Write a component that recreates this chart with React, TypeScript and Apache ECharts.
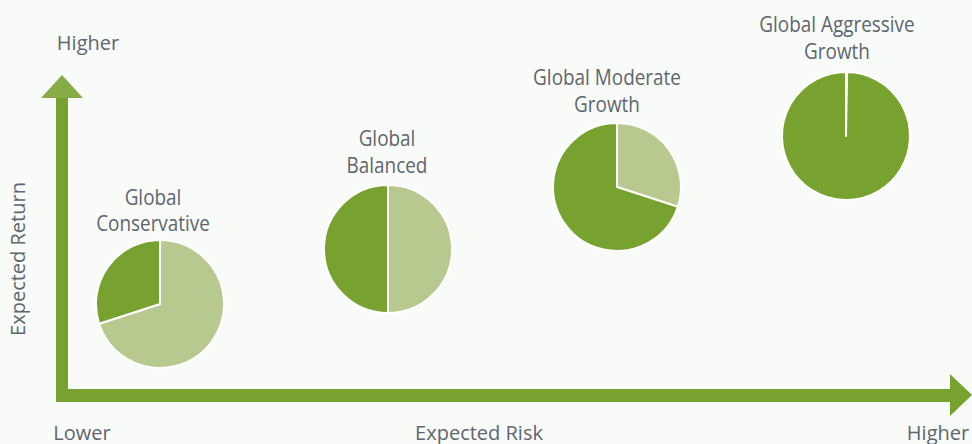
import React, { useEffect, useRef } from "react";
import * as echarts from "echarts";

// ---- data ----
const fundTitles: string[][] = [
  ["Global", "Conservative"],
  ["Global", "Balanced"],
  ["Global Moderate", "Growth"],
  ["Global Aggressive", "Growth"],
];
const defensiveShare = [70, 50, 30, 0]; // light green
const growthShare = [30, 50, 70, 100]; // dark green
const yAxisTitle = "Expected Return";
const xAxisTitle = "Expected Risk";
const lowLabel = "Lower";
const highLabel = "Higher";

// ---- layout / style ----
const pieCenters: [number, number][] = [
  [160, 304],
  [388, 249],
  [617, 187],
  [846, 136],
];
const titleX = [153, 387, 607, 837];
const titleY: [number, number][] = [
  [196, 222],
  [137, 164],
  [76, 103],
  [23, 50],
];
const PIE_R = 64;
const DARK = "#78a22f";
const LIGHT = "#b7c98e";
const HEAD = "#86ad45";
const TEXT = "#5e666f";
const BG = "#f9fbf8";
const TITLE_FONT = '22px "Open Sans", sans-serif';
const TITLE_SCALE_X = 0.86;
const AXIS_FONT = '20px "Open Sans", sans-serif';

export default function App() {
  const ref = useRef<HTMLDivElement>(null);
  useEffect(() => {
    if (!ref.current) return;
    const chart = echarts.init(ref.current, undefined, { renderer: "svg" });

    const series: any[] = fundTitles.map((t, i) => ({
      type: "pie",
      name: t.join(" "),
      center: pieCenters[i],
      radius: [0, PIE_R],
      startAngle: 90,
      clockwise: true,
      minAngle: 1,
      stillShowZeroSum: true,
      label: { show: false },
      labelLine: { show: false },
      silent: true,
      itemStyle: { borderColor: "#ffffff", borderWidth: 2 },
      data: [
        { name: "Defensive", value: defensiveShare[i], itemStyle: { color: LIGHT } },
        { name: "Growth", value: growthShare[i], itemStyle: { color: DARK } },
      ],
    }));

    const titleTexts: any[] = [];
    fundTitles.forEach((t, i) => {
      t.forEach((line, j) => {
        titleTexts.push({
          type: "text",
          x: titleX[i],
          y: titleY[i][j],
          scaleX: TITLE_SCALE_X,
          style: {
            text: line,
            font: TITLE_FONT,
            fill: TEXT,
            textAlign: "center",
            textVerticalAlign: "middle",
          },
        });
      });
    });

    const graphic: any[] = [
      // vertical arrow
      { type: "rect", shape: { x: 56, y: 97, width: 12, height: 305 }, style: { fill: DARK } },
      { type: "polygon", shape: { points: [[62, 75], [83, 98], [41, 98]] }, style: { fill: HEAD } },
      // horizontal arrow
      { type: "rect", shape: { x: 56, y: 389, width: 896, height: 13 }, style: { fill: DARK } },
      { type: "polygon", shape: { points: [[950, 374], [972, 395], [950, 416]] }, style: { fill: DARK } },
      // axis texts
      {
        type: "text", x: 88, y: 42,
        style: { text: highLabel, font: AXIS_FONT, fill: TEXT, textAlign: "center", textVerticalAlign: "middle" },
      },
      {
        type: "text", x: 82, y: 432,
        style: { text: lowLabel, font: AXIS_FONT, fill: TEXT, textAlign: "center", textVerticalAlign: "middle" },
      },
      {
        type: "text", x: 479, y: 432,
        style: { text: xAxisTitle, font: AXIS_FONT, fill: TEXT, textAlign: "center", textVerticalAlign: "middle" },
      },
      {
        type: "text", x: 938, y: 432,
        style: { text: highLabel, font: AXIS_FONT, fill: TEXT, textAlign: "center", textVerticalAlign: "middle" },
      },
      {
        type: "text", x: 17, y: 259, rotation: Math.PI / 2,
        style: { text: yAxisTitle, font: AXIS_FONT, fill: TEXT, textAlign: "center", textVerticalAlign: "middle" },
      },
      ...titleTexts,
    ];

    chart.setOption({
      animation: false,
      backgroundColor: BG,
      series,
      graphic,
    });
    return () => chart.dispose();
  }, []);
  return (
    <div
      ref={ref}
      style={{ position: "fixed", left: 0, top: 0, width: 972, height: 444 }}
    />
  );
}
